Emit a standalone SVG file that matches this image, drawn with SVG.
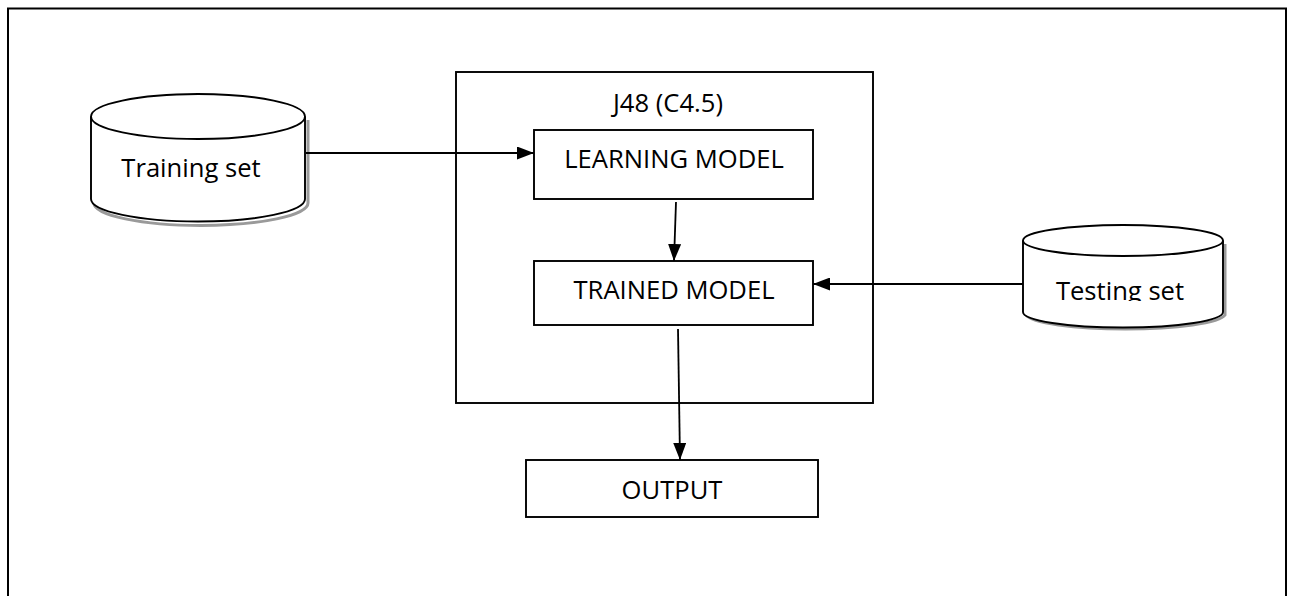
<svg xmlns="http://www.w3.org/2000/svg" width="1291" height="596" viewBox="0 0 1291 596">
<style>
.box{fill:#fff;stroke:#000;stroke-width:1.9}
.cyl{fill:#fff;stroke:#000;stroke-width:1.9}
.shadow{fill:none;stroke:#9a9a9a;stroke-width:3}
.lbl{font-family:"Open Sans","Noto Sans",sans-serif;font-size:25.6px;fill:#000;text-anchor:middle}
.conn{stroke:#000;stroke-width:1.8;fill:none}
</style>
<defs>
<marker id="ah" viewBox="0 0 17 13" refX="17" refY="6.5" markerWidth="17" markerHeight="13" markerUnits="userSpaceOnUse" orient="auto">
<path d="M0,0 L17,6.5 L0,13 Z" fill="#000"/>
</marker>
<clipPath id="clipTest"><rect x="1000" y="220" width="240" height="81"/></clipPath>
</defs>
<rect width="1291" height="596" fill="#fff"/>
<path d="M8,596 V8.5 H1286 V596" fill="none" stroke="#000" stroke-width="2"/>

<g id="j48">
<rect class="box" x="456" y="72" width="417" height="331"/>
<text class="lbl" x="668" y="112">J48 (C4.5)</text>
</g>

<g id="training-set">
<path class="shadow" d="M94,203 A107,22.5 0 0 0 308,203 V120"/>
<path class="cyl" d="M91,116.5 V199 A107,22.5 0 0 0 305,199 V116.5"/>
<ellipse class="cyl" cx="198" cy="116.5" rx="107" ry="22.5"/>
<text class="lbl" x="191" y="177">Training set</text>
</g>

<g id="learning-model">
<rect class="box" x="534" y="130" width="279" height="69"/>
<text class="lbl" x="674" y="168">LEARNING MODEL</text>
</g>

<g id="trained-model">
<rect class="box" x="534" y="261" width="279" height="64"/>
<text class="lbl" x="674" y="299">TRAINED MODEL</text>
</g>

<g id="testing-set">
<path class="shadow" d="M1026,315 A100,15.5 0 0 0 1225,315 V244"/>
<path class="cyl" d="M1023,240.5 V312 A100,15.5 0 0 0 1223,312 V240.5"/>
<ellipse class="cyl" cx="1123" cy="240.5" rx="100" ry="15.5"/>
<text class="lbl" x="1120" y="300" clip-path="url(#clipTest)">Testing set</text>
</g>

<g id="output">
<rect class="box" x="526" y="460" width="292" height="57"/>
<text class="lbl" x="672" y="499">OUTPUT</text>
</g>

<g id="connectors">
<line class="conn" x1="306" y1="153" x2="534" y2="153" marker-end="url(#ah)"/>
<line class="conn" x1="676" y1="202" x2="674" y2="261" marker-end="url(#ah)"/>
<line class="conn" x1="1023" y1="284" x2="813" y2="284" marker-end="url(#ah)"/>
<line class="conn" x1="678" y1="329" x2="680" y2="460" marker-end="url(#ah)"/>
</g>
</svg>
